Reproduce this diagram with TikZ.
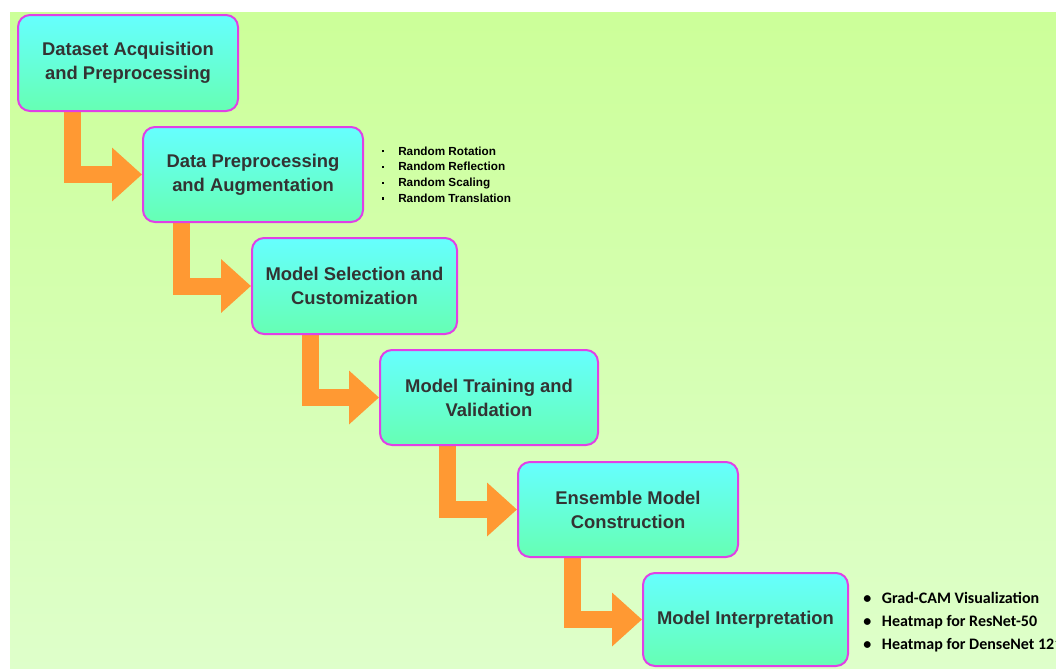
\documentclass[tikz,border=0pt]{standalone}
\usepackage{fontspec}
\setmainfont{Liberation Sans}
\newfontfamily\listfont{Carlito}
\usetikzlibrary{calc,positioning,arrows.meta}
\pgfdeclarelayer{back}
\pgfsetlayers{back,main}
\definecolor{bgtop}{HTML}{CCFF99}
\definecolor{bgbot}{HTML}{DEFFCA}
\definecolor{boxtop}{HTML}{66FFFF}
\definecolor{boxbot}{HTML}{66FFB3}
\definecolor{boxline}{HTML}{E040E6}
\definecolor{flowor}{HTML}{FF9933}
\definecolor{txt}{HTML}{333333}
\begin{document}
\begin{tikzpicture}[x=0.75pt,y=-0.75pt,
 stage/.style={draw=boxline,line width=1.5pt,rounded corners=9pt,top color=boxtop,bottom color=boxbot,
  text=txt,font=\fontsize{13.8}{18}\selectfont\bfseries,align=center,inner sep=0pt},
 flow/.style={draw=flowor,line width=12.75pt,-{Triangle[length=22.5pt,width=39pt]}},
 sqb/.style={align=left,inner sep=0pt,font=\fontsize{8.8}{11.8}\selectfont\bfseries},
 dotb/.style={align=left,inner sep=0pt,font=\listfont\fontsize{12}{17}\selectfont\bfseries}]
\useasboundingbox(0,0)rectangle(1056,668);
\begin{pgfonlayer}{back}
\fill[top color=bgtop,bottom color=bgbot](10,12)rectangle(1056,668);
\end{pgfonlayer}
% stages
\node[stage,minimum width=165pt,minimum height=72pt](acq)at(128,63){Dataset Acquisition\\and Preprocessing};
\node[stage,minimum width=165pt,minimum height=71.25pt](prep)at(253,174.5){Data Preprocessing\\and Augmentation};
\node[stage,minimum width=153.75pt,minimum height=72pt](sel)at(354.5,286){Model Selection and\\Customization};
\node[stage,minimum width=163.5pt,minimum height=71.25pt](train)at(489,397.5){Model Training and\\Validation};
\node[stage,minimum width=165pt,minimum height=71.25pt](ens)at(628,509.5){Ensemble Model\\Construction};
\node[stage,minimum width=153.75pt,minimum height=69.75pt](interp)at(745.5,619.5){Model Interpretation};
% side notes
\node[sqb,right=13.5pt of prep](aug){\makebox[12pt][l]{\raisebox{2pt}{\rule{1.6pt}{1.6pt}}}Random Rotation\\
 \makebox[12pt][l]{\raisebox{2pt}{\rule{1.6pt}{1.6pt}}}Random Reflection\\
 \makebox[12pt][l]{\raisebox{2pt}{\rule{1.6pt}{1.6pt}}}Random Scaling\\
 \makebox[12pt][l]{\raisebox{2pt}{\rule{1.6pt}{1.6pt}}}Random Translation};
\node[dotb,right=10.5pt of interp,yshift=-1.9pt](cam){\makebox[14pt][l]{•}Grad-CAM Visualization\\
 \makebox[14pt][l]{•}Heatmap for ResNet-50\\
 \makebox[14pt][l]{•}Heatmap for DenseNet 121};
% arrows
\begin{pgfonlayer}{back}
\draw[flow]([xshift=41.6pt]acq.south west)|-(prep.west);
\draw[flow]([xshift=29.6pt]prep.south west)|-(sel.west);
\draw[flow]([xshift=44.25pt]sel.south west)|-(train.west);
\draw[flow]([xshift=51.4pt]train.south west)|-(ens.west);
\draw[flow]([xshift=41.6pt]ens.south west)|-(interp.west);
\end{pgfonlayer}
\end{tikzpicture}
\end{document}
